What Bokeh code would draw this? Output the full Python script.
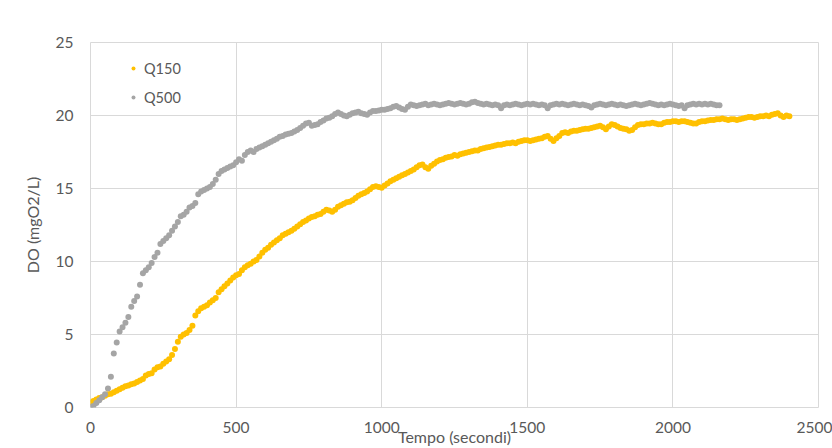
from bokeh.plotting import figure
from bokeh.models import FixedTicker, Range1d, Legend, LegendItem
from bokeh.embed import file_html
from bokeh.resources import INLINE

# ---- data (time in s, DO in mgO2/L) ----
t500 = [0, 10, 20, 30, 40, 50, 60, 70, 80, 90,
        100, 110, 120, 130, 140, 150, 160, 170, 180, 190,
        200, 210, 220, 230, 240, 250, 260, 270, 280, 290,
        300, 310, 320, 330, 340, 350, 360, 370, 380, 390,
        400, 410, 420, 430, 440, 450, 460, 470, 480, 490,
        500, 510, 520, 530, 540, 550, 560, 570, 580, 590,
        600, 610, 620, 630, 640, 650, 660, 670, 680, 690,
        700, 710, 720, 730, 740, 750, 760, 770, 780, 790,
        800, 810, 820, 830, 840, 850, 860, 870, 880, 890,
        900, 910, 920, 930, 940, 950, 960, 970, 980, 990,
        1000, 1010, 1020, 1030, 1040, 1050, 1060, 1070, 1080, 1090,
        1100, 1110, 1120, 1130, 1140, 1150, 1160, 1170, 1180, 1190,
        1200, 1210, 1220, 1230, 1240, 1250, 1260, 1270, 1280, 1290,
        1300, 1310, 1320, 1330, 1340, 1350, 1360, 1370, 1380, 1390,
        1400, 1410, 1420, 1430, 1440, 1450, 1460, 1470, 1480, 1490,
        1500, 1510, 1520, 1530, 1540, 1550, 1560, 1570, 1580, 1590,
        1600, 1610, 1620, 1630, 1640, 1650, 1660, 1670, 1680, 1690,
        1700, 1710, 1720, 1730, 1740, 1750, 1760, 1770, 1780, 1790,
        1800, 1810, 1820, 1830, 1840, 1850, 1860, 1870, 1880, 1890,
        1900, 1910, 1920, 1930, 1940, 1950, 1960, 1970, 1980, 1990,
        2000, 2010, 2020, 2030, 2040, 2050, 2060, 2070, 2080, 2090,
        2100, 2110, 2120, 2130, 2140, 2150, 2160]
q500 = [0.05, 0.1, 0.3, 0.5, 0.7, 0.9, 1.3, 2.1, 3.7, 4.45,
        5.2, 5.5, 5.8, 6.2, 6.9, 7.3, 7.6, 8.4, 9.2, 9.4,
        9.6, 9.9, 10.3, 10.6, 11.2, 11.4, 11.6, 11.8, 12.1, 12.4,
        12.7, 13.1, 13.2, 13.4, 13.7, 13.8, 14.0, 14.6, 14.8, 14.9,
        15.0, 15.1, 15.3, 15.6, 16.0, 16.2, 16.3, 16.4, 16.5, 16.6,
        16.8, 17.0, 16.9, 17.3, 17.5, 17.6, 17.5, 17.7, 17.8, 17.9,
        18.0, 18.1, 18.2, 18.3, 18.4, 18.55, 18.6, 18.7, 18.75, 18.8,
        18.9, 19.0, 19.15, 19.3, 19.45, 19.5, 19.3, 19.35, 19.4, 19.55,
        19.65, 19.8, 19.85, 19.95, 20.1, 20.2, 20.1, 20.0, 19.95, 20.05,
        20.15, 20.2, 20.25, 20.15, 20.1, 20.05, 20.2, 20.3, 20.3, 20.35,
        20.4, 20.4, 20.45, 20.5, 20.6, 20.65, 20.55, 20.45, 20.4, 20.6,
        20.75, 20.7, 20.65, 20.7, 20.75, 20.8, 20.7, 20.75, 20.8, 20.75,
        20.7, 20.75, 20.8, 20.85, 20.8, 20.75, 20.8, 20.85, 20.8, 20.75,
        20.8, 20.9, 20.95, 20.85, 20.8, 20.75, 20.8, 20.75, 20.7, 20.75,
        20.7, 20.5, 20.7, 20.75, 20.7, 20.75, 20.8, 20.75, 20.7, 20.75,
        20.8, 20.75, 20.8, 20.75, 20.7, 20.75, 20.7, 20.5, 20.7, 20.75,
        20.8, 20.75, 20.8, 20.75, 20.7, 20.75, 20.8, 20.75, 20.7, 20.75,
        20.7, 20.65, 20.55, 20.7, 20.75, 20.8, 20.75, 20.7, 20.75, 20.8,
        20.75, 20.7, 20.75, 20.7, 20.65, 20.7, 20.75, 20.8, 20.75, 20.7,
        20.75, 20.8, 20.85, 20.8, 20.75, 20.7, 20.75, 20.7, 20.75, 20.8,
        20.75, 20.7, 20.65, 20.7, 20.5, 20.7, 20.75, 20.8, 20.75, 20.8,
        20.75, 20.8, 20.75, 20.8, 20.75, 20.7, 20.7]

t150 = [0, 10, 20, 30, 40, 50, 60, 70, 80, 90,
        100, 110, 120, 130, 140, 150, 160, 170, 180, 190,
        200, 210, 220, 230, 240, 250, 260, 270, 280, 290,
        300, 310, 320, 330, 340, 350, 360, 370, 380, 390,
        400, 410, 420, 430, 440, 450, 460, 470, 480, 490,
        500, 510, 520, 530, 540, 550, 560, 570, 580, 590,
        600, 610, 620, 630, 640, 650, 660, 670, 680, 690,
        700, 710, 720, 730, 740, 750, 760, 770, 780, 790,
        800, 810, 820, 830, 840, 850, 860, 870, 880, 890,
        900, 910, 920, 930, 940, 950, 960, 970, 980, 990,
        1000, 1010, 1020, 1030, 1040, 1050, 1060, 1070, 1080, 1090,
        1100, 1110, 1120, 1130, 1140, 1150, 1160, 1170, 1180, 1190,
        1200, 1210, 1220, 1230, 1240, 1250, 1260, 1270, 1280, 1290,
        1300, 1310, 1320, 1330, 1340, 1350, 1360, 1370, 1380, 1390,
        1400, 1410, 1420, 1430, 1440, 1450, 1460, 1470, 1480, 1490,
        1500, 1510, 1520, 1530, 1540, 1550, 1560, 1570, 1580, 1590,
        1600, 1610, 1620, 1630, 1640, 1650, 1660, 1670, 1680, 1690,
        1700, 1710, 1720, 1730, 1740, 1750, 1760, 1770, 1780, 1790,
        1800, 1810, 1820, 1830, 1840, 1850, 1860, 1870, 1880, 1890,
        1900, 1910, 1920, 1930, 1940, 1950, 1960, 1970, 1980, 1990,
        2000, 2010, 2020, 2030, 2040, 2050, 2060, 2070, 2080, 2090,
        2100, 2110, 2120, 2130, 2140, 2150, 2160, 2170, 2180, 2190,
        2200, 2210, 2220, 2230, 2240, 2250, 2260, 2270, 2280, 2290,
        2300, 2310, 2320, 2330, 2340, 2350, 2360, 2370, 2380, 2390,
        2400]
q150 = [0.35, 0.45, 0.55, 0.65, 0.7, 0.8, 0.9, 0.95, 1.05, 1.15,
        1.25, 1.35, 1.45, 1.5, 1.6, 1.65, 1.75, 1.85, 1.95, 2.2,
        2.3, 2.35, 2.6, 2.75, 2.8, 3.0, 3.15, 3.3, 3.6, 4.0,
        4.5, 4.85, 5.0, 5.1, 5.3, 5.6, 6.3, 6.6, 6.8, 6.9,
        7.0, 7.2, 7.35, 7.5, 7.9, 8.1, 8.3, 8.5, 8.7, 8.9,
        9.05, 9.15, 9.4, 9.6, 9.75, 9.85, 10.0, 10.1, 10.35, 10.6,
        10.8, 10.95, 11.15, 11.3, 11.45, 11.6, 11.8, 11.9, 12.0, 12.1,
        12.25, 12.4, 12.55, 12.7, 12.8, 12.95, 13.05, 13.1, 13.2, 13.25,
        13.4, 13.55, 13.5, 13.4, 13.55, 13.75, 13.85, 13.95, 14.05, 14.1,
        14.2, 14.35, 14.5, 14.6, 14.7, 14.8, 14.95, 15.1, 15.15, 15.1,
        15.05, 15.2, 15.35, 15.5, 15.6, 15.7, 15.8, 15.9, 16.0, 16.1,
        16.2, 16.3, 16.45, 16.6, 16.65, 16.45, 16.35, 16.55, 16.7, 16.85,
        16.95, 17.0, 17.1, 17.15, 17.2, 17.3, 17.25, 17.35, 17.4, 17.45,
        17.5, 17.55, 17.6, 17.6, 17.7, 17.75, 17.8, 17.85, 17.9, 17.95,
        18.0, 18.0, 18.05, 18.1, 18.1, 18.15, 18.1, 18.2, 18.25, 18.3,
        18.3, 18.25, 18.3, 18.35, 18.4, 18.45, 18.55, 18.6, 18.4, 18.25,
        18.45, 18.6, 18.8, 18.85, 18.8, 18.9, 18.95, 18.95, 19.0, 19.05,
        19.1, 19.1, 19.15, 19.2, 19.25, 19.3, 19.2, 19.05, 19.25, 19.4,
        19.35, 19.25, 19.15, 19.1, 19.05, 18.95, 19.0, 19.2, 19.35, 19.4,
        19.4, 19.45, 19.45, 19.5, 19.45, 19.4, 19.4, 19.5, 19.55, 19.55,
        19.6, 19.6, 19.55, 19.6, 19.6, 19.55, 19.5, 19.45, 19.45, 19.55,
        19.6, 19.6, 19.65, 19.7, 19.7, 19.75, 19.75, 19.8, 19.75, 19.7,
        19.75, 19.75, 19.7, 19.75, 19.8, 19.85, 19.9, 19.9, 19.85, 19.9,
        19.95, 19.95, 20.0, 19.95, 20.05, 20.1, 20.15, 20.0, 19.9, 20.0,
        19.95]

x_ticks = [0, 500, 1000, 1500, 2000, 2500]
y_ticks = [0, 5, 10, 15, 20, 25]
series_names = ["Q150", "Q500"]
series_colors = ["#FFC000", "#A5A5A5"]

FONT = "Lato"
TXT = "#595959"
GRID = "#D9D9D9"

p = figure(width=832, height=448, output_backend="svg", toolbar_location=None,
           x_range=Range1d(0, 2500), y_range=Range1d(0, 25),
           min_border_left=90, min_border_right=14, min_border_top=42,
           min_border_bottom=41, background_fill_color="white",
           border_fill_color="white")

r150 = p.scatter(t150, q150, size=6, color=series_colors[0], line_width=0)
r500 = p.scatter(t500, q500, size=6, color=series_colors[1], line_width=0)

p.outline_line_color = GRID
for g, tk in ((p.xgrid, x_ticks), (p.ygrid, y_ticks)):
    g.ticker = FixedTicker(ticks=tk)
    g.grid_line_color = GRID
    g.grid_line_width = 1

p.xaxis.ticker = FixedTicker(ticks=x_ticks)
p.yaxis.ticker = FixedTicker(ticks=y_ticks)
for ax in (p.xaxis, p.yaxis):
    ax.axis_line_color = None
    ax.major_tick_line_color = None
    ax.minor_tick_line_color = None
    ax.major_tick_out = 0
    ax.major_tick_in = 0
    ax.major_label_text_font = FONT
    ax.major_label_text_font_size = "15.5px"
    ax.major_label_text_color = TXT
    ax.axis_label_text_font = FONT
    ax.axis_label_text_font_size = "16px"
    ax.axis_label_text_font_style = "normal"
    ax.axis_label_text_color = TXT

p.xaxis.axis_label = "Tempo (secondi)"
p.xaxis.major_label_standoff = 14
p.xaxis.axis_label_standoff = -9
p.yaxis.axis_label = "DO (mgO2/L)"
p.yaxis.major_label_standoff = 17
p.yaxis.axis_label_standoff = 11

legend = Legend(items=[LegendItem(label=series_names[0], renderers=[r150]),
                       LegendItem(label=series_names[1], renderers=[r500])],
                location=(38, 300))
legend.border_line_color = None
legend.background_fill_alpha = 0
legend.padding = 0
legend.margin = 0
legend.spacing = 9
legend.glyph_width = 10
legend.glyph_height = 20
legend.label_height = 20
legend.label_standoff = 6
legend.label_text_font = FONT
legend.label_text_font_size = "14.5px"
legend.label_text_color = TXT
p.add_layout(legend)

open("out.html", "w").write(file_html(p, INLINE))
